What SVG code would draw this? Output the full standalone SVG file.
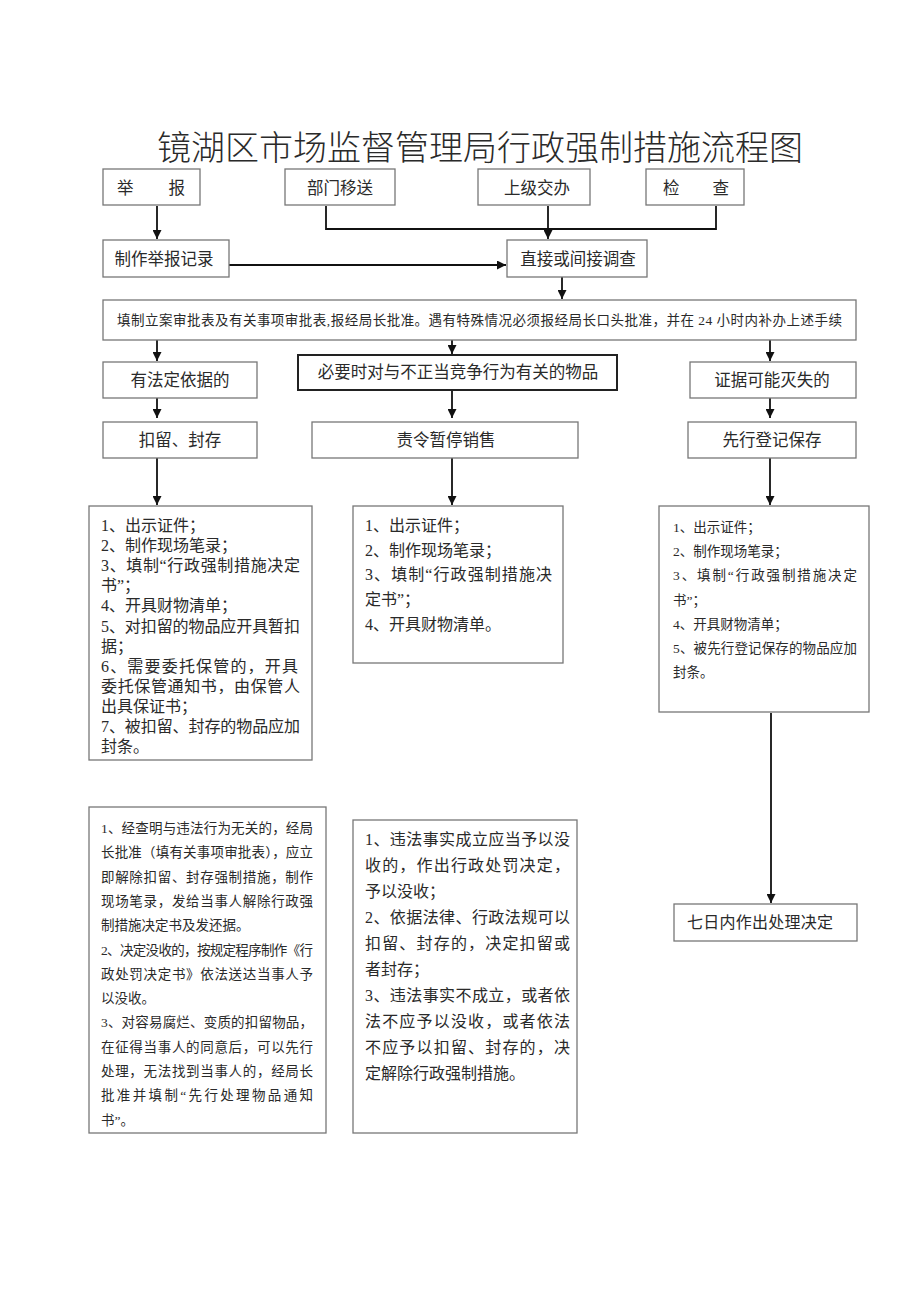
<svg xmlns="http://www.w3.org/2000/svg" width="920" height="1301" viewBox="0 0 920 1301">
<defs>
<marker id="ah" viewBox="0 0 10 10" refX="10" refY="5" markerWidth="9" markerHeight="9" markerUnits="userSpaceOnUse" orient="auto">
<path d="M0,0 L10,5 L0,10 Z" fill="#111"/>
</marker>
<style>
.box{fill:#fff;stroke:#777;stroke-width:1.3}
.bold{fill:#fff;stroke:#222;stroke-width:2}
.t{font-family:"Liberation Serif","Noto Sans CJK SC",serif;fill:#2a2a2a}
.lbl{font-size:16.5px;text-anchor:middle}
.p16{font-size:16px}
.p13{font-size:13.5px}
.c{fill:none;stroke:#111;stroke-width:1.8}
</style>
</defs>
<rect width="920" height="1301" fill="#fff"/>
<text id="title" class="t" x="157" y="160" font-size="34" font-weight="300" textLength="646" lengthAdjust="spacing">镜湖区市场监督管理局行政强制措施流程图</text>

<g id="connectors">
<path class="c" d="M157,206 V239" marker-end="url(#ah)"/>
<path class="c" d="M326,206 V229 H716 V206"/>
<path class="c" d="M548,206 V239" marker-end="url(#ah)"/>
<path class="c" d="M229,265 H506" marker-end="url(#ah)"/>
<path class="c" d="M562,277 V299" marker-end="url(#ah)"/>
<path class="c" d="M157,340 V361" marker-end="url(#ah)"/>
<path class="c" d="M452,340 V354" marker-end="url(#ah)"/>
<path class="c" d="M770,340 V361" marker-end="url(#ah)"/>
<path class="c" d="M157,398 V418" marker-end="url(#ah)"/>
<path class="c" d="M452,390 V418" marker-end="url(#ah)"/>
<path class="c" d="M770,398 V418" marker-end="url(#ah)"/>
<path class="c" d="M157,458 V505" marker-end="url(#ah)"/>
<path class="c" d="M452,458 V505" marker-end="url(#ah)"/>
<path class="c" d="M770,458 V505" marker-end="url(#ah)"/>
<path class="c" d="M771,713 V903" marker-end="url(#ah)"/>
</g>

<g id="n-jubao"><rect class="box" x="103" y="169" width="97" height="36"/><text class="t" x="117" y="194" font-size="16.5" textLength="68" lengthAdjust="spacing">举 报</text></g>
<g id="n-bumen"><rect class="box" x="285" y="169" width="110" height="36"/><text class="t lbl" x="340" y="194">部门移送</text></g>
<g id="n-shangji"><rect class="box" x="478" y="169" width="112" height="36"/><text class="t lbl" x="537" y="194">上级交办</text></g>
<g id="n-jiancha"><rect class="box" x="646" y="169" width="98" height="36"/><text class="t" x="663" y="194" font-size="16.5" textLength="66" lengthAdjust="spacing">检 查</text></g>

<g id="n-jilu"><rect class="box" x="103" y="240" width="126" height="37"/><text class="t lbl" x="164" y="265">制作举报记录</text></g>
<g id="n-diaocha"><rect class="box" x="507" y="240" width="140" height="37"/><text class="t lbl" x="578" y="265">直接或间接调查</text></g>

<g id="n-lian"><rect class="box" x="103" y="300" width="753" height="40"/><text class="t p13" x="117" y="325" textLength="725" lengthAdjust="spacing">填制立案审批表及有关事项审批表,报经局长批准。遇有特殊情况必须报经局长口头批准，并在 24 小时内补办上述手续</text></g>

<g id="n-yifa"><rect class="box" x="103" y="362" width="154" height="36"/><text class="t lbl" x="180" y="386">有法定依据的</text></g>
<g id="n-biyao"><rect class="bold" x="298" y="355" width="319" height="35"/><text class="t lbl" x="458" y="378">必要时对与不正当竞争行为有关的物品</text></g>
<g id="n-zhengju"><rect class="box" x="690" y="362" width="166" height="36"/><text class="t lbl" x="772" y="386">证据可能灭失的</text></g>

<g id="n-kouliu"><rect class="box" x="103" y="422" width="154" height="36"/><text class="t lbl" x="180" y="446">扣留、封存</text></g>
<g id="n-zeling"><rect class="box" x="312" y="422" width="266" height="36"/><text class="t lbl" x="446" y="446">责令暂停销售</text></g>
<g id="n-xianxing"><rect class="box" x="688" y="422" width="168" height="36"/><text class="t lbl" x="772" y="446">先行登记保存</text></g>

<g id="n-left1"><rect class="box" x="89" y="506" width="223" height="254"/>
<text class="t p16">
<tspan x="101" y="531">1、出示证件；</tspan>
<tspan x="101" y="551.1">2、制作现场笔录；</tspan>
<tspan x="101" y="571.2" textLength="199" lengthAdjust="spacing">3、填制“行政强制措施决定</tspan>
<tspan x="101" y="591.3">书”；</tspan>
<tspan x="101" y="611.4">4、开具财物清单；</tspan>
<tspan x="101" y="631.5" textLength="199" lengthAdjust="spacing">5、对扣留的物品应开具暂扣</tspan>
<tspan x="101" y="651.6">据；</tspan>
<tspan x="101" y="671.7" textLength="197" lengthAdjust="spacing">6、需要委托保管的，开具</tspan>
<tspan x="101" y="691.8" textLength="199" lengthAdjust="spacing">委托保管通知书，由保管人</tspan>
<tspan x="101" y="711.9">出具保证书；</tspan>
<tspan x="101" y="732" textLength="199" lengthAdjust="spacing">7、被扣留、封存的物品应加</tspan>
<tspan x="101" y="752.1">封条。</tspan>
</text></g>

<g id="n-mid1"><rect class="box" x="353" y="506" width="210" height="157"/>
<text class="t p16">
<tspan x="365" y="531">1、出示证件；</tspan>
<tspan x="365" y="555.7">2、制作现场笔录；</tspan>
<tspan x="365" y="580.4" textLength="187" lengthAdjust="spacing">3、填制“行政强制措施决</tspan>
<tspan x="365" y="605.1">定书”；</tspan>
<tspan x="365" y="629.8">4、开具财物清单。</tspan>
</text></g>

<g id="n-right1"><rect class="box" x="659" y="506" width="210" height="206"/>
<text class="t p13">
<tspan x="673" y="532">1、出示证件；</tspan>
<tspan x="673" y="556.2">2、制作现场笔录；</tspan>
<tspan x="673" y="580.4" textLength="184" lengthAdjust="spacing">3、填制“行政强制措施决定</tspan>
<tspan x="673" y="604.6">书”；</tspan>
<tspan x="673" y="628.8">4、开具财物清单；</tspan>
<tspan x="673" y="653" textLength="184" lengthAdjust="spacing">5、被先行登记保存的物品应加</tspan>
<tspan x="673" y="677.2">封条。</tspan>
</text></g>

<g id="n-qiri"><rect class="box" x="674" y="904" width="183" height="37"/><text class="t" x="687" y="928" font-size="16" textLength="146" lengthAdjust="spacing">七日内作出处理决定</text></g>

<g id="n-left2"><rect class="box" x="89" y="807" width="237" height="326"/>
<text class="t p13">
<tspan x="101" y="833" textLength="212" lengthAdjust="spacing">1、经查明与违法行为无关的，经局</tspan>
<tspan x="101" y="857.3" textLength="212" lengthAdjust="spacing">长批准（填有关事项审批表），应立</tspan>
<tspan x="101" y="881.6" textLength="212" lengthAdjust="spacing">即解除扣留、封存强制措施，制作</tspan>
<tspan x="101" y="905.9" textLength="212" lengthAdjust="spacing">现场笔录，发给当事人解除行政强</tspan>
<tspan x="101" y="930.2">制措施决定书及发还据。</tspan>
<tspan x="101" y="954.5" textLength="212" lengthAdjust="spacing">2、决定没收的，按规定程序制作《行</tspan>
<tspan x="101" y="978.8" textLength="212" lengthAdjust="spacing">政处罚决定书》依法送达当事人予</tspan>
<tspan x="101" y="1003.1">以没收。</tspan>
<tspan x="101" y="1027.4" textLength="212" lengthAdjust="spacing">3、对容易腐烂、变质的扣留物品，</tspan>
<tspan x="101" y="1051.7" textLength="212" lengthAdjust="spacing">在征得当事人的同意后，可以先行</tspan>
<tspan x="101" y="1076" textLength="212" lengthAdjust="spacing">处理，无法找到当事人的，经局长</tspan>
<tspan x="101" y="1100.3" textLength="212" lengthAdjust="spacing">批准并填制“先行处理物品通知</tspan>
<tspan x="101" y="1124.6">书”。</tspan>
</text></g>

<g id="n-mid2"><rect class="box" x="353" y="820" width="224" height="313"/>
<text class="t p16">
<tspan x="365" y="845" textLength="205" lengthAdjust="spacing">1、违法事实成立应当予以没</tspan>
<tspan x="365" y="871" textLength="205" lengthAdjust="spacing">收的，作出行政处罚决定，</tspan>
<tspan x="365" y="897">予以没收；</tspan>
<tspan x="365" y="923" textLength="205" lengthAdjust="spacing">2、依据法律、行政法规可以</tspan>
<tspan x="365" y="949" textLength="205" lengthAdjust="spacing">扣留、封存的，决定扣留或</tspan>
<tspan x="365" y="975">者封存；</tspan>
<tspan x="365" y="1001" textLength="205" lengthAdjust="spacing">3、违法事实不成立，或者依</tspan>
<tspan x="365" y="1027" textLength="205" lengthAdjust="spacing">法不应予以没收，或者依法</tspan>
<tspan x="365" y="1053" textLength="205" lengthAdjust="spacing">不应予以扣留、封存的，决</tspan>
<tspan x="365" y="1079">定解除行政强制措施。</tspan>
</text></g>
</svg>
